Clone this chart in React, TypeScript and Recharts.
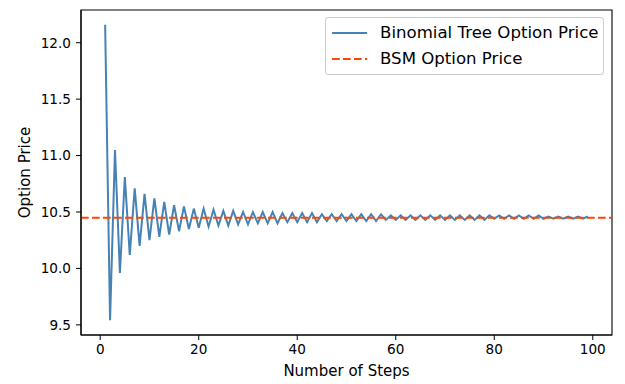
import React from 'react';
import { LineChart, Line, XAxis, YAxis, ReferenceLine, ReferenceArea, Legend } from 'recharts';

const steps: number[] = Array.from({ length: 99 }, (_, i) => i + 1);
const binomialPrices: number[] = [
  12.16, 9.54, 11.05, 9.96, 10.81, 10.12, 10.71, 10.20, 10.66, 10.25,
  10.62, 10.28, 10.59, 10.30, 10.56, 10.33, 10.55, 10.35, 10.53, 10.36,
  10.53, 10.37, 10.52, 10.38, 10.51, 10.38, 10.51, 10.39, 10.50, 10.39,
  10.50, 10.40, 10.50, 10.40, 10.50, 10.40, 10.49, 10.41, 10.49, 10.41,
  10.49, 10.41, 10.49, 10.41, 10.48, 10.42, 10.48, 10.42, 10.48, 10.42,
  10.48, 10.42, 10.48, 10.42, 10.48, 10.42, 10.48, 10.43, 10.47, 10.43,
  10.47, 10.43, 10.47, 10.43, 10.47, 10.43, 10.47, 10.43, 10.47, 10.43,
  10.47, 10.43, 10.47, 10.43, 10.47, 10.43, 10.47, 10.43, 10.47, 10.44,
  10.47, 10.44, 10.47, 10.44, 10.47, 10.44, 10.47, 10.44, 10.47, 10.44,
  10.46, 10.44, 10.46, 10.44, 10.46, 10.44, 10.46, 10.44, 10.46,
];
const bsmPrice = 10.45;
const xTicks: number[] = [0, 20, 40, 60, 80, 100];
const yTicks: number[] = [9.5, 10.0, 10.5, 11.0, 11.5, 12.0];
const xDomain: [number, number] = [-3.9, 103.9];
const yDomain: [number, number] = [9.41, 12.29];
const seriesNames = ['Binomial Tree Option Price', 'BSM Option Price'];
const xLabel = 'Number of Steps';
const yLabel = 'Option Price';

const data = steps.map((n, i) => ({ n, price: binomialPrices[i] }));

const FONT = "'DejaVu Sans', sans-serif";
const BLUE = '#4682b4';
const ORANGE = '#ff4500';
const LABEL_SIZE = 15;
const TICK_SIZE = 13.6;

const YLabelC = (props: any) => {
  const vb = props.viewBox || { x: 0, y: 10, width: 81, height: 325 };
  const cy = vb.y + vb.height / 2;
  const x = 30;
  return (
    <text x={x} y={cy} transform={`rotate(-90, ${x}, ${cy})`} textAnchor="middle"
      fontSize={LABEL_SIZE} fontFamily={FONT} fill="#000">{yLabel}</text>
  );
};

const XLabelC = (props: any) => {
  const vb = props.viewBox || { x: 81, y: 335, width: 531, height: 49 };
  const cx = vb.x + vb.width / 2;
  return (
    <text x={cx} y={376} textAnchor="middle" fontSize={LABEL_SIZE} fontFamily={FONT} fill="#000">{xLabel}</text>
  );
};

const renderLegend = () => (
  <div style={{
    boxSizing: 'border-box', width: 279, height: 58, border: '1px solid #cccccc', borderRadius: 3,
    background: 'rgba(255,255,255,0.8)', fontFamily: FONT, fontSize: 16.6, color: '#000', position: 'relative',
  }}>
    {seriesNames.map((name, i) => (
      <div key={name} style={{ position: 'absolute', left: 0, top: 4 + i * 25.5, height: 22, display: 'flex', alignItems: 'center', whiteSpace: 'nowrap' }}>
        <svg width={54} height={22} style={{ display: 'block' }}>
          <line x1={6} x2={41} y1={11} y2={11} stroke={i === 0 ? BLUE : ORANGE} strokeWidth={2}
            strokeDasharray={i === 0 ? undefined : '7.7 3.3'} />
        </svg>
        <span style={{ lineHeight: '22px' }}>{name}</span>
      </div>
    ))}
  </div>
);

export default function App() {
  return (
    <div style={{ position: 'absolute', left: 0, top: 0, width: 625, height: 384, background: '#fff' }}>
      <LineChart width={625} height={384} data={data} margin={{ top: 10, right: 13, left: 0, bottom: 0 }}>
        <XAxis type="number" dataKey="n" domain={xDomain} ticks={xTicks} allowDataOverflow
          height={49} tickSize={5} tickMargin={4} stroke="#000" axisLine={{ stroke: '#000', strokeWidth: 1.1 }}
          tickLine={{ stroke: '#000' }} tick={{ fill: '#000', fontSize: TICK_SIZE, fontFamily: FONT }}
          label={<XLabelC />} />
        <YAxis type="number" domain={yDomain} ticks={yTicks} allowDataOverflow width={81}
          tickSize={5} tickMargin={5} stroke="#000" axisLine={{ stroke: '#000', strokeWidth: 1.1 }}
          tickLine={{ stroke: '#000' }} tick={{ fill: '#000', fontSize: TICK_SIZE, fontFamily: FONT }}
          tickFormatter={(v: number) => v.toFixed(1)} label={<YLabelC />} />
        <ReferenceArea x1={xDomain[0]} x2={xDomain[1]} y1={yDomain[0]} y2={yDomain[1]}
          fill="none" fillOpacity={0} stroke="#000" strokeWidth={1.1} />
        <Line type="linear" dataKey="price" name={seriesNames[0]} stroke={BLUE} strokeWidth={2}
          dot={false} activeDot={false} isAnimationActive={false} />
        <ReferenceLine y={bsmPrice} stroke={ORANGE} strokeWidth={2} strokeDasharray="7.7 3.3" />
        <Legend verticalAlign="middle" align="center" content={renderLegend}
          wrapperStyle={{ position: 'absolute', left: 325, top: 17, width: 279, height: 58, margin: 0 }} />
      </LineChart>
    </div>
  );
}
